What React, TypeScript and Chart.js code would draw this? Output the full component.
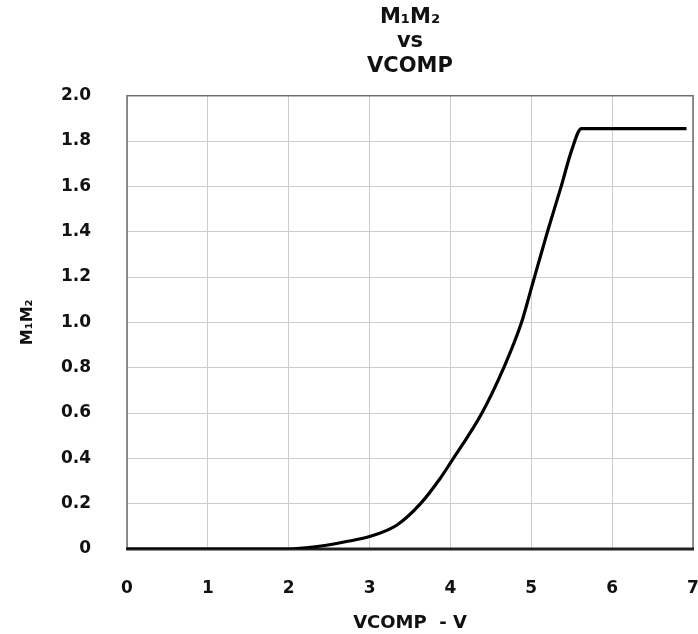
import React, { useEffect, useRef } from "react";
import { Chart, registerables } from "chart.js";

Chart.register(...registerables);

const vcomp = [0, 1, 2, 2.3, 2.7, 3.0, 3.34, 3.63, 3.87, 4.0, 4.39, 4.66, 4.88, 5.0, 5.2, 5.37, 5.5, 5.62, 6.92];
const m1m2 = [0, 0, 0, 0.008, 0.032, 0.055, 0.106, 0.2, 0.31, 0.38, 0.6, 0.8, 1.0, 1.15, 1.4, 1.6, 1.76, 1.855, 1.855];

const titleLines = ["M\u2081M\u2082", "vs", "VCOMP"];
const yTitle = "M\u2081M\u2082";
const xTitle = "VCOMP  - V";
const xMin = 0, xMax = 7, xStep = 1;
const yMin = 0, yMax = 2.0, yStep = 0.2;

const FONT = "'DejaVu Sans', 'Liberation Sans', Arial, sans-serif";

const framePlugin = {
  id: "frame",
  beforeDatasetsDraw(chart: any) {
    const { ctx, chartArea: a } = chart;
    ctx.save();
    ctx.strokeStyle = "#6e6e6e";
    ctx.lineWidth = 1.5;
    ctx.strokeRect(a.left, a.top, a.right - a.left, a.bottom - a.top);
    ctx.strokeStyle = "#222";
    ctx.lineWidth = 3;
    ctx.beginPath();
    ctx.moveTo(a.left - 1, a.bottom);
    ctx.lineTo(a.right + 1, a.bottom);
    ctx.stroke();
    ctx.restore();
  },
};

export default function App() {
  const ref = useRef<HTMLCanvasElement>(null);
  useEffect(() => {
    if (!ref.current) return;
    const data = vcomp.map((x, i) => ({ x, y: m1m2[i] }));
    const chart = new Chart(ref.current, {
      type: "line",
      data: {
        datasets: [
          {
            data,
            borderColor: "#000",
            borderWidth: 3.2,
            pointRadius: 0,
            cubicInterpolationMode: "monotone",
            fill: false,
          },
        ],
      },
      options: {
        animation: false,
        responsive: false,
        devicePixelRatio: 1,
        layout: { padding: { left: 0, right: 5, top: 0, bottom: 0 } },
        plugins: {
          legend: { display: false },
          tooltip: { enabled: false },
          title: {
            display: true,
            fullSize: false,
            text: titleLines,
            color: "#111",
            font: { family: FONT, size: 21, weight: "bold", lineHeight: 1.17 },
            padding: { top: 5, bottom: 17 },
          },
        },
        scales: {
          x: {
            type: "linear",
            min: xMin,
            max: xMax,
            ticks: {
              stepSize: xStep,
              color: "#111",
              font: { family: FONT, size: 17, weight: "bold" },
              padding: 29,
              maxRotation: 0,
            },
            grid: { color: "#cccccc", lineWidth: 1, drawTicks: false },
            border: { display: false },
            title: {
              display: true,
              text: xTitle,
              color: "#111",
              font: { family: FONT, size: 18, weight: "bold", lineHeight: 1.2 },
              padding: { top: 0, bottom: 0 },
            },
            afterFit(s: any) {
              s.height = 85;
              s.paddingLeft = 0;
              s.paddingRight = 0;
            },
          },
          y: {
            type: "linear",
            min: yMin,
            max: yMax,
            ticks: {
              stepSize: yStep,
              color: "#111",
              font: { family: FONT, size: 17, weight: "bold" },
              padding: 36,
              callback: (v: any) => (Number(v) === 0 ? "0" : Number(v).toFixed(1)),
            },
            grid: { color: "#cccccc", lineWidth: 1, drawTicks: false },
            border: { display: false },
            title: {
              display: true,
              text: yTitle,
              color: "#111",
              font: { family: FONT, size: 16, weight: "bold", lineHeight: 1.2 },
              padding: { top: 18, bottom: 0 },
            },
            afterFit(s: any) {
              s.width = 127;
              s.paddingTop = 0;
              s.paddingBottom = 0;
            },
          },
        },
      },
      plugins: [framePlugin],
    });
    return () => chart.destroy();
  }, []);
  return (
    <div style={{ position: "absolute", left: 0, top: 0, width: 698, height: 634, background: "#fff" }}>
      <canvas ref={ref} width={698} height={634} style={{ width: 698, height: 634, display: "block" }} />
    </div>
  );
}
